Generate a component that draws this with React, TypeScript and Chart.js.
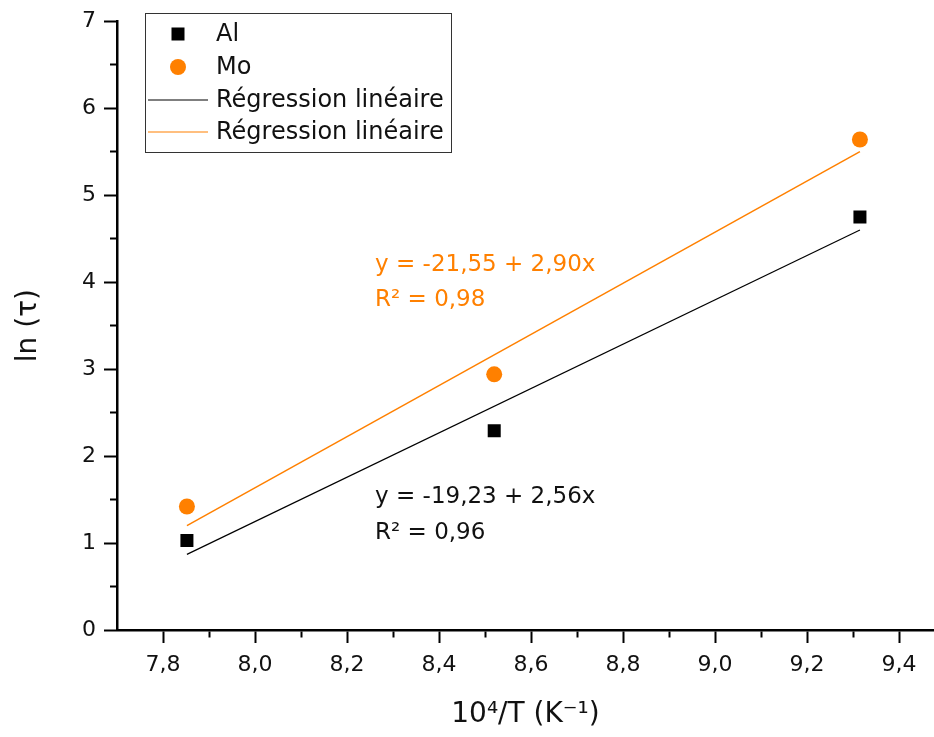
import React, { useEffect, useRef } from 'react';
import { Chart, registerables } from 'chart.js';

Chart.register(...registerables);

// ---- data ----
const AL_X = [7.852, 8.52, 9.315];
const AL_Y = [1.03, 2.29, 4.75];
const MO_X = [7.852, 8.52, 9.315];
const MO_Y = [1.42, 2.94, 5.64];
const FIT_X = [7.852, 9.315];
const AL_FIT_Y = [0.87, 4.6];
const MO_FIT_Y = [1.2, 5.5];

const X_MAJOR = [7.8, 8.0, 8.2, 8.4, 8.6, 8.8, 9.0, 9.2, 9.4];
const X_MINOR = [7.9, 8.1, 8.3, 8.5, 8.7, 8.9, 9.1, 9.3];
const Y_MAJOR = [0, 1, 2, 3, 4, 5, 6, 7];
const Y_MINOR = [0.5, 1.5, 2.5, 3.5, 4.5, 5.5, 6.5];

const X_MIN = 7.7;
const X_MAX = 9.476;
const Y_MIN = 0;
const Y_MAX = 7;

const LEGEND_LABELS = ['Al', 'Mo', 'Régression linéaire', 'Régression linéaire'];
const AL_EQ = ['y = -19,23 + 2,56x', 'R² = 0,96'];
const MO_EQ = ['y = -21,55 + 2,90x', 'R² = 0,98'];

const ORANGE = '#FF8000';
const FONT = '"DejaVu Sans", sans-serif';

const toPts = (xs: number[], ys: number[]) => xs.map((x, i) => ({ x, y: ys[i] }));
const isIn = (arr: number[], v: number) => arr.some((a) => Math.abs(a - v) < 1e-6);

const overlayPlugin = {
  id: 'overlay',
  afterDraw(chart: any) {
    const ctx = chart.ctx;
    const xs = chart.scales.x;
    const ys = chart.scales.y;
    ctx.save();
    // equations
    ctx.font = `23px ${FONT}`;
    ctx.textAlign = 'left';
    ctx.textBaseline = 'alphabetic';
    const drawEq = (lines: string[], x: number, y0: number, y1: number, color: string) => {
      ctx.fillStyle = color;
      ctx.fillText(lines[0], xs.getPixelForValue(x), ys.getPixelForValue(y0));
      ctx.fillText(lines[1], xs.getPixelForValue(x), ys.getPixelForValue(y1));
    };
    drawEq(MO_EQ, 8.261, 4.13, 3.73, ORANGE);
    drawEq(AL_EQ, 8.261, 1.46, 1.05, '#111');

    // legend box
    const bx = 145, by = 13, bw = 306, bh = 139;
    ctx.fillStyle = '#fff';
    ctx.fillRect(bx, by, bw, bh);
    ctx.strokeStyle = '#333';
    ctx.lineWidth = 1;
    ctx.strokeRect(bx + 0.5, by + 0.5, bw, bh);
    const rows = [34, 67, 100, 132];
    ctx.font = `24px ${FONT}`;
    ctx.textBaseline = 'middle';
    LEGEND_LABELS.forEach((t, i) => {
      ctx.fillStyle = '#111';
      ctx.fillText(t, 216, rows[i] + 1);
    });
    // markers
    ctx.fillStyle = '#000';
    ctx.fillRect(178 - 6.5, rows[0] - 6.5, 13, 13);
    ctx.fillStyle = ORANGE;
    ctx.beginPath();
    ctx.arc(178, rows[1], 8, 0, Math.PI * 2);
    ctx.fill();
    ctx.lineWidth = 1.2;
    ctx.strokeStyle = '#000';
    ctx.beginPath();
    ctx.moveTo(148, rows[2]);
    ctx.lineTo(208, rows[2]);
    ctx.stroke();
    ctx.strokeStyle = ORANGE;
    ctx.beginPath();
    ctx.moveTo(148, rows[3]);
    ctx.lineTo(208, rows[3]);
    ctx.stroke();
    ctx.restore();
  },
};

export default function App() {
  const ref = useRef<HTMLCanvasElement | null>(null);
  useEffect(() => {
    if (!ref.current) return;
    const chart = new Chart(ref.current, {
      type: 'scatter',
      data: {
        datasets: [
          {
            label: 'Al fit',
            data: toPts(FIT_X, AL_FIT_Y),
            showLine: true,
            borderColor: '#000',
            borderWidth: 1.2,
            pointRadius: 0,
            order: 2,
          },
          {
            label: 'Mo fit',
            data: toPts(FIT_X, MO_FIT_Y),
            showLine: true,
            borderColor: ORANGE,
            borderWidth: 1.5,
            pointRadius: 0,
            order: 2,
          },
          {
            label: 'Al',
            data: toPts(AL_X, AL_Y),
            pointStyle: 'rect',
            pointRadius: 9.2,
            backgroundColor: '#000',
            borderColor: '#000',
            borderWidth: 0,
            order: 1,
          },
          {
            label: 'Mo',
            data: toPts(MO_X, MO_Y),
            pointStyle: 'circle',
            pointRadius: 8,
            backgroundColor: ORANGE,
            borderColor: ORANGE,
            borderWidth: 0,
            order: 1,
          },
        ],
      },
      options: {
        animation: false,
        responsive: true,
        maintainAspectRatio: false,
        layout: { autoPadding: false, padding: { top: 18, left: 0, right: 0, bottom: 0 } },
        plugins: {
          legend: { display: false },
          tooltip: { enabled: false },
        },
        scales: {
          x: {
            type: 'linear',
            min: X_MIN,
            max: X_MAX,
            afterBuildTicks: (s: any) => {
              s.ticks = [...X_MAJOR, ...X_MINOR].sort((a, b) => a - b).map((v) => ({ value: v }));
            },
            afterFit: (s: any) => {
              s.height = 107;
              s.paddingLeft = 0;
              s.paddingRight = 0;
            },
            ticks: {
              autoSkip: false,
              maxRotation: 0,
              padding: 9,
              color: '#111',
              font: { family: FONT, size: 22 },
              callback: (v: any) => (isIn(X_MAJOR, Number(v)) ? Number(v).toFixed(1).replace('.', ',') : ''),
            },
            grid: {
              display: true,
              drawOnChartArea: false,
              drawTicks: true,
              tickLength: 13,
              tickWidth: 2,
              tickColor: '#000',
              tickBorderDash: (c: any) => (c.tick && isIn(X_MINOR, c.tick.value) ? [6, 30] : []),
            },
            border: { display: true, color: '#000', width: 2.5 },
            title: {
              display: true,
              text: '10⁴/T (K⁻¹)',
              color: '#111',
              font: { family: FONT, size: 28 },
              padding: { top: 0, bottom: 5 },
            },
          },
          y: {
            type: 'linear',
            min: Y_MIN,
            max: Y_MAX,
            afterBuildTicks: (s: any) => {
              s.ticks = [...Y_MAJOR, ...Y_MINOR].sort((a, b) => a - b).map((v) => ({ value: v }));
            },
            afterFit: (s: any) => {
              s.width = 117;
            },
            ticks: {
              autoSkip: false,
              padding: 8,
              color: '#111',
              font: { family: FONT, size: 22 },
              callback: (v: any) => (isIn(Y_MAJOR, Number(v)) ? String(v) : ''),
            },
            grid: {
              display: true,
              drawOnChartArea: false,
              drawTicks: true,
              tickLength: 13,
              tickWidth: 2,
              tickColor: '#000',
              tickBorderDash: (c: any) => (c.tick && isIn(Y_MINOR, c.tick.value) ? [30, 6] : []),
              tickBorderDashOffset: (c: any) => (c.tick && isIn(Y_MINOR, c.tick.value) ? 30 : 0),
            },
            border: { display: true, color: '#000', width: 2.5 },
            title: {
              display: true,
              text: 'ln (τ)',
              color: '#111',
              font: { family: FONT, size: 28 },
              padding: { top: 12, bottom: 0 },
            },
          },
        },
      },
      plugins: [overlayPlugin],
    } as any);
    return () => chart.destroy();
  }, []);

  return (
    <div style={{ position: 'fixed', left: 0, top: 0, width: 934, height: 737, background: '#fff' }}>
      <canvas ref={ref} />
    </div>
  );
}
